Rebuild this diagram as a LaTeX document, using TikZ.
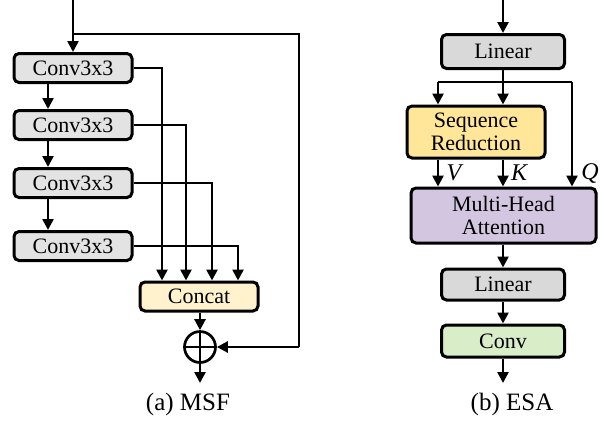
\documentclass[tikz,border=0pt]{standalone}
\usepackage{fontspec}
\setmainfont{Liberation Serif}
\usetikzlibrary{arrows.meta}
\definecolor{boxgray}{HTML}{E3E3E3}
\definecolor{lingray}{HTML}{D9D9D9}
\definecolor{catyel}{HTML}{FFF2CC}
\definecolor{sryel}{HTML}{FFE699}
\definecolor{mhapur}{HTML}{D3C6E0}
\definecolor{convgr}{HTML}{D8EDC8}
\tikzset{
  blk/.style={draw=black, line width=3pt, rounded corners=5pt, inner sep=0pt,
    font=\rmfamily\fontsize{22}{24}\selectfont, align=center},
  conn/.style={line width=2.5pt, -{Triangle[length=11pt,width=11pt]}},
  wire/.style={line width=2.5pt},
  captxt/.style={font=\rmfamily\fontsize{25}{27}\selectfont}
}
\begin{document}
\begin{tikzpicture}[x=1pt,y=-1pt]
\useasboundingbox (0,0) rectangle (611,424);
% ---------- MSF ----------
\node[blk, fill=boxgray, minimum width=118pt, minimum height=29pt] (c1) at (73,68) {Conv3x3};
\node[blk, fill=boxgray, minimum width=118pt, minimum height=29pt] (c2) at (73,125) {Conv3x3};
\node[blk, fill=boxgray, minimum width=118pt, minimum height=29pt] (c3) at (73,183) {Conv3x3};
\node[blk, fill=boxgray, minimum width=118pt, minimum height=29pt] (c4) at (73,246) {Conv3x3};
\node[blk, fill=catyel, minimum width=118pt, minimum height=29pt] (cat) at (199,296.5) {Concat};
\node[draw, line width=2.7pt, circle, minimum size=31pt, inner sep=0pt] (plus) at (200,347) {};
\draw[line width=2.7pt] (plus.north) -- (plus.south) (plus.west) -- (plus.east);
\coordinate (in1) at (73,0);
\coordinate (br1) at (73,34);
\coordinate (rt1) at (299,34);
\coordinate (rb1) at (299,347);
\coordinate (out1) at (200,383);
\draw[conn] (in1) -- (c1.north);
\draw[wire] (br1) -- (rt1) -- (rb1);
\draw[conn] (rb1) -- (plus.east);
\foreach \a/\b in {c1/c2,c2/c3,c3/c4}
  \draw[conn] (\a.south -| 48,0) -- (\b.north -| 48,0);
\coordinate (k1) at (162,68);
\coordinate (k2) at (186,125);
\coordinate (k3) at (212,183);
\coordinate (k4) at (238,246);
\draw[conn] (c1.east) -- (k1) -- (cat.north -| k1);
\draw[conn] (c2.east) -- (k2) -- (cat.north -| k2);
\draw[conn] (c3.east) -- (k3) -- (cat.north -| k3);
\draw[conn] (c4.east) -- (k4) -- (cat.north -| k4);
\draw[conn] (cat.south -| plus) -- (plus.north);
\draw[conn] (plus.south) -- (out1);
\node[captxt] (capa) at (188,404) {(a) MSF};
% ---------- ESA ----------
\node[blk, fill=lingray, minimum width=123pt, minimum height=34pt] (l1) at (503,51.5) {Linear};
\node[blk, fill=sryel, minimum width=138pt, minimum height=52pt] (sr) at (476,132) {Sequence\\[-1pt]Reduction};
\node[blk, fill=mhapur, minimum width=185pt, minimum height=55pt] (mha) at (503.5,215.5) {Multi-Head\\[-1pt]Attention};
\node[blk, fill=lingray, minimum width=123pt, minimum height=31pt] (l2) at (503,284.5) {Linear};
\node[blk, fill=convgr, minimum width=123pt, minimum height=32pt] (cv) at (503,341) {Conv};
\coordinate (in2) at (503,0);
\coordinate (bm) at (503,82);
\coordinate (bl) at (438,82);
\coordinate (bq) at (572,82);
\coordinate (out2) at (503,383);
\draw[conn] (in2) -- (l1.north);
\draw[wire] (l1.south) -- (bm);
\draw[wire] (bl) -- (bq);
\draw[conn] (bl) -- (sr.north -| bl);
\draw[conn] (bm) -- (sr.north -| bm);
\draw[conn] (bq) -- (mha.north -| bq);
\draw[conn] (sr.south -| bl) -- (mha.north -| bl);
\draw[conn] (sr.south -| bm) -- (mha.north -| bm);
\node[font=\rmfamily\fontsize{24}{26}\selectfont\itshape] (lv) at (454,173) {V};
\node[font=\rmfamily\fontsize{24}{26}\selectfont\itshape] (lk) at (519,173) {K};
\node[font=\rmfamily\fontsize{24}{26}\selectfont\itshape] (lq) at (590,173) {Q};
\draw[conn] (mha.south -| l2) -- (l2.north);
\draw[conn] (l2.south) -- (cv.north);
\draw[conn] (cv.south) -- (out2);
\node[captxt] (capb) at (512,404) {(b) ESA};
\end{tikzpicture}
\end{document}
